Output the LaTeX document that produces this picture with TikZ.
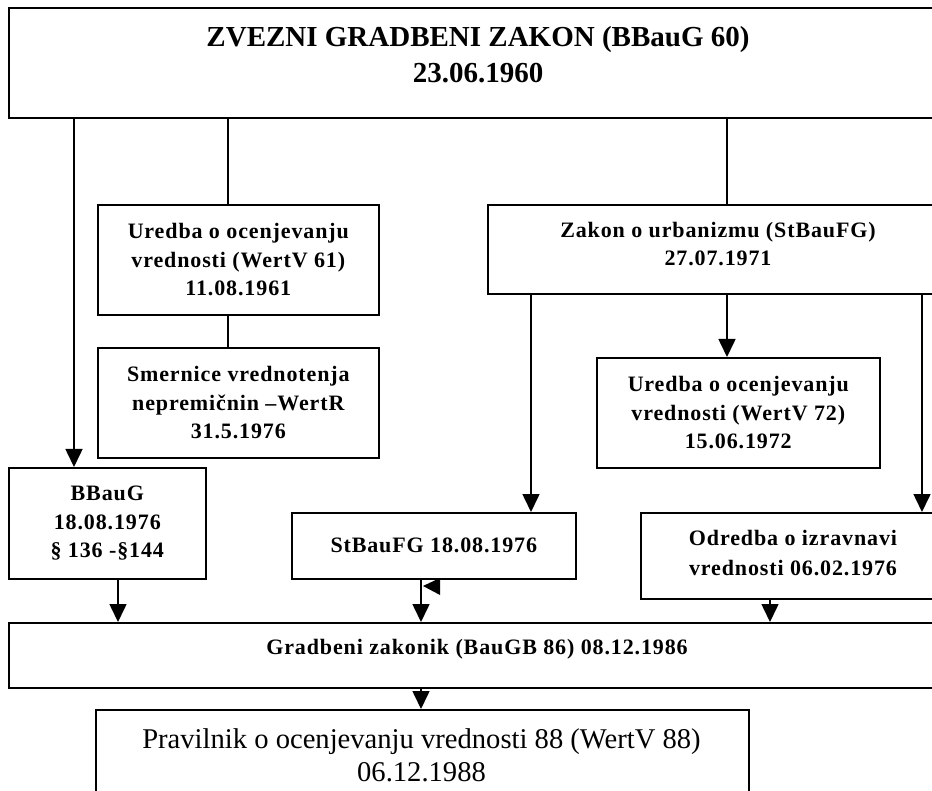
\documentclass[tikz,border=0pt]{standalone}
\usepackage{fontspec}
\setmainfont{Liberation Serif}
\newfontfamily\spacedserif[LetterSpace=4]{Liberation Serif}
\usetikzlibrary{arrows.meta,calc}
\newcommand\boxfnt{\spacedserif\bfseries\fontsize{22}{28.5}\selectfont}
\newcommand\titlefnt{\bfseries\fontsize{29}{36}\selectfont}
\newcommand\pravfnt{\fontsize{28.6}{33}\selectfont}
\begin{document}
\begin{tikzpicture}[x=1pt,y=-1pt,
  box/.style={draw,line width=1.6pt,rectangle,anchor=north west,inner sep=0pt,align=center,font=\boxfnt},
  txt/.style={inner sep=0pt,align=center,font=\boxfnt},
  conn/.style={line width=1.6pt},
  arr/.style={conn,-{Triangle[width=17pt,length=18pt]}}]
\useasboundingbox (0,0) rectangle (932,791);
\clip (0,0) rectangle (932,791);
% boxes
\node[box,minimum width=960pt,minimum height=110pt] (top) at (8,7) {};
\node[txt,font=\titlefnt] (topT) at (478,55) {ZVEZNI GRADBENI ZAKON (BBauG 60)\\23.06.1960};
\node[box,minimum width=281pt,minimum height=110pt] (u61) at (97,204) {Uredba o ocenjevanju\\vrednosti (WertV 61)\\11.08.1961};
\node[box,minimum width=281pt,minimum height=110pt] (smer) at (97,347) {Smernice vrednotenja\\nepremičnin –WertR\\31.5.1976};
\node[box,minimum width=480pt,minimum height=89pt] (zakon) at (487,204) {};
\node[txt] (zakT) at (718,244) {Zakon o urbanizmu (StBauFG)\\27.07.1971};
\node[box,minimum width=283pt,minimum height=110pt] (u72) at (596,357) {Uredba o ocenjevanju\\vrednosti (WertV 72)\\15.06.1972};
\node[box,minimum width=197pt,minimum height=111pt] (bbaug) at (8,467) {BBauG\\18.08.1976\\§ 136 -§144};
\node[box,minimum width=284pt,minimum height=66pt] (stb) at (291,512) {StBauFG 18.08.1976};
\node[box,minimum width=320pt,minimum height=86pt] (odr) at (640,512) {};
\node[txt,font=\boxfnt\fontsize{22}{30}\selectfont] (odrT) at (793,553) {Odredba o izravnavi\\vrednosti 06.02.1976};
\node[box,minimum width=960pt,minimum height=65pt] (grad) at (8,622) {};
\node[txt] (gradT) at (477,649) {Gradbeni zakonik (BauGB 86) 08.12.1986};
\node[box,minimum width=653pt,minimum height=120pt] (prav) at (95,709) {};
\node[txt,font=\pravfnt] (pravT) at (421.5,755) {Pravilnik o ocenjevanju vrednosti 88 (WertV 88)\\06.12.1988};
% x positions of connectors
\coordinate (xa) at (74,0);
\coordinate (xb) at (228,0);
\coordinate (xc) at (727,0);
\coordinate (xd) at (531,0);
\coordinate (xe) at (922,0);
\coordinate (xf) at (118,0);
\coordinate (xg) at (421,0);
\coordinate (xh) at (770,0);
% connectors
\draw[arr] (xa |- top.south) -- (xa |- bbaug.north);
\draw[conn] (xb |- top.south) -- (xb |- u61.north);
\draw[conn] (xb |- u61.south) -- (xb |- smer.north);
\draw[conn] (xc |- top.south) -- (xc |- zakon.north);
\draw[arr] (xd |- zakon.south) -- (xd |- stb.north);
\draw[arr] (xc |- zakon.south) -- (xc |- u72.north);
\draw[arr] (xe |- zakon.south) -- (xe |- odr.north);
\draw[arr] (xf |- bbaug.south) -- (xf |- grad.north);
\draw[arr] (xg |- stb.south) -- (xg |- grad.north);
\draw[arr] (xh |- odr.south) -- (xh |- grad.north);
\draw[arr] (xg |- grad.south) -- (xg |- prav.north);
% stray left-pointing arrowhead below StBauFG
\fill (423,586) -- (440,578) -- (440,595) -- cycle;
\end{tikzpicture}
\end{document}
